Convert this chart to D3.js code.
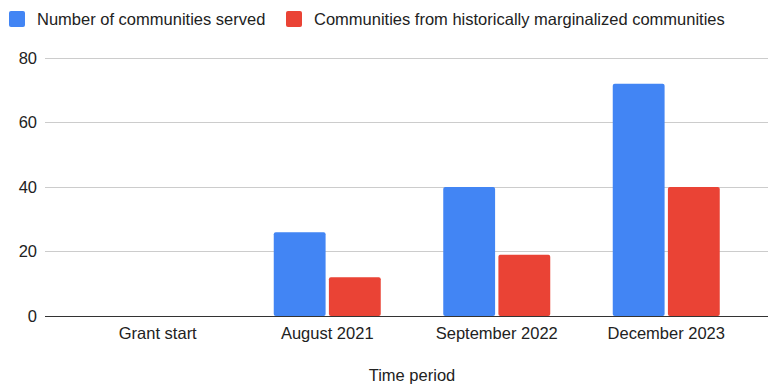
<!DOCTYPE html>
<html>
<head>
<meta charset="utf-8">
<script src="https://cdn.jsdelivr.net/npm/d3@7"></script>
<style>
  html, body { margin: 0; padding: 0; background: #fff; }
  svg { display: block; font-family: "Liberation Sans", Arial, sans-serif; }
</style>
</head>
<body>
<svg id="chart" width="769" height="385"></svg>
<script>
// Time periods and series values
const categories = ["Grant start", "August 2021", "September 2022", "December 2023"];
const seriesNames = ["Number of communities served", "Communities from historically marginalized communities"];
const servedValues = [0, 26, 40, 72];
const marginalizedValues = [0, 12, 19, 40];
const seriesColors = ["#4285F4", "#EA4335"];
const yTicks = [0, 20, 40, 60, 80];
const xAxisTitle = "Time period";

const series = [servedValues, marginalizedValues];
const fontSize = 16.5;

const svg = d3.select("#chart");

const plot = { left: 45, right: 768, top: 58, bottom: 316 };

const x = d3.scaleBand().domain(categories).range([73, 751]).paddingInner(0).paddingOuter(0);
const xInner = d3.scaleBand().domain(d3.range(series.length)).range([0, 107]).paddingInner(0.06);
const y = d3.scaleLinear().domain([0, 80]).range([plot.bottom, plot.top]);

// Horizontal gridlines
svg.append("g")
  .selectAll("line")
  .data(yTicks.filter(d => d !== 0))
  .join("line")
  .attr("x1", plot.left).attr("x2", plot.right)
  .attr("y1", d => y(d)).attr("y2", d => y(d))
  .attr("stroke", "#cccccc").attr("stroke-width", 1)
  .attr("shape-rendering", "crispEdges");

// Y tick labels
svg.append("g")
  .selectAll("text")
  .data(yTicks)
  .join("text")
  .attr("x", 37)
  .attr("y", d => y(d))
  .attr("dy", "0.36em")
  .attr("text-anchor", "end")
  .attr("font-size", fontSize)
  .attr("fill", "#222")
  .text(d => d);

// Bars
const groups = svg.append("g")
  .selectAll("g")
  .data(categories)
  .join("g")
  .attr("transform", d => `translate(${x(d) + (x.bandwidth() - 107) / 2},0)`);

groups.selectAll("rect")
  .data((c, i) => series.map((s, k) => ({ k, v: s[i] })).filter(d => d.v > 0))
  .join("rect")
  .attr("x", d => xInner(d.k))
  .attr("width", xInner.bandwidth())
  .attr("y", d => y(d.v))
  .attr("height", d => y(0) - y(d.v))
  .attr("rx", 2)
  .attr("fill", d => seriesColors[d.k]);

// Baseline
svg.append("line")
  .attr("x1", plot.left).attr("x2", plot.right)
  .attr("y1", y(0)).attr("y2", y(0))
  .attr("stroke", "#333").attr("stroke-width", 1)
  .attr("shape-rendering", "crispEdges");

// X tick labels
svg.append("g")
  .selectAll("text")
  .data(categories)
  .join("text")
  .attr("x", d => x(d) + x.bandwidth() / 2)
  .attr("y", 339)
  .attr("text-anchor", "middle")
  .attr("font-size", fontSize)
  .attr("fill", "#222")
  .text(d => d);

// X axis title
svg.append("text")
  .attr("x", 412)
  .attr("y", 381)
  .attr("text-anchor", "middle")
  .attr("font-size", fontSize)
  .attr("fill", "#222")
  .text(xAxisTitle);

// Legend
const legendX = [9, 286];
const legend = svg.append("g")
  .selectAll("g")
  .data(seriesNames)
  .join("g")
  .attr("transform", (d, i) => `translate(${legendX[i]},11)`);
legend.append("rect")
  .attr("width", 16).attr("height", 16).attr("rx", 2)
  .attr("fill", (d, i) => seriesColors[i]);
legend.append("text")
  .attr("x", 28).attr("y", 14)
  .attr("font-size", fontSize)
  .attr("fill", "#222")
  .text(d => d);
</script>
</body>
</html>
